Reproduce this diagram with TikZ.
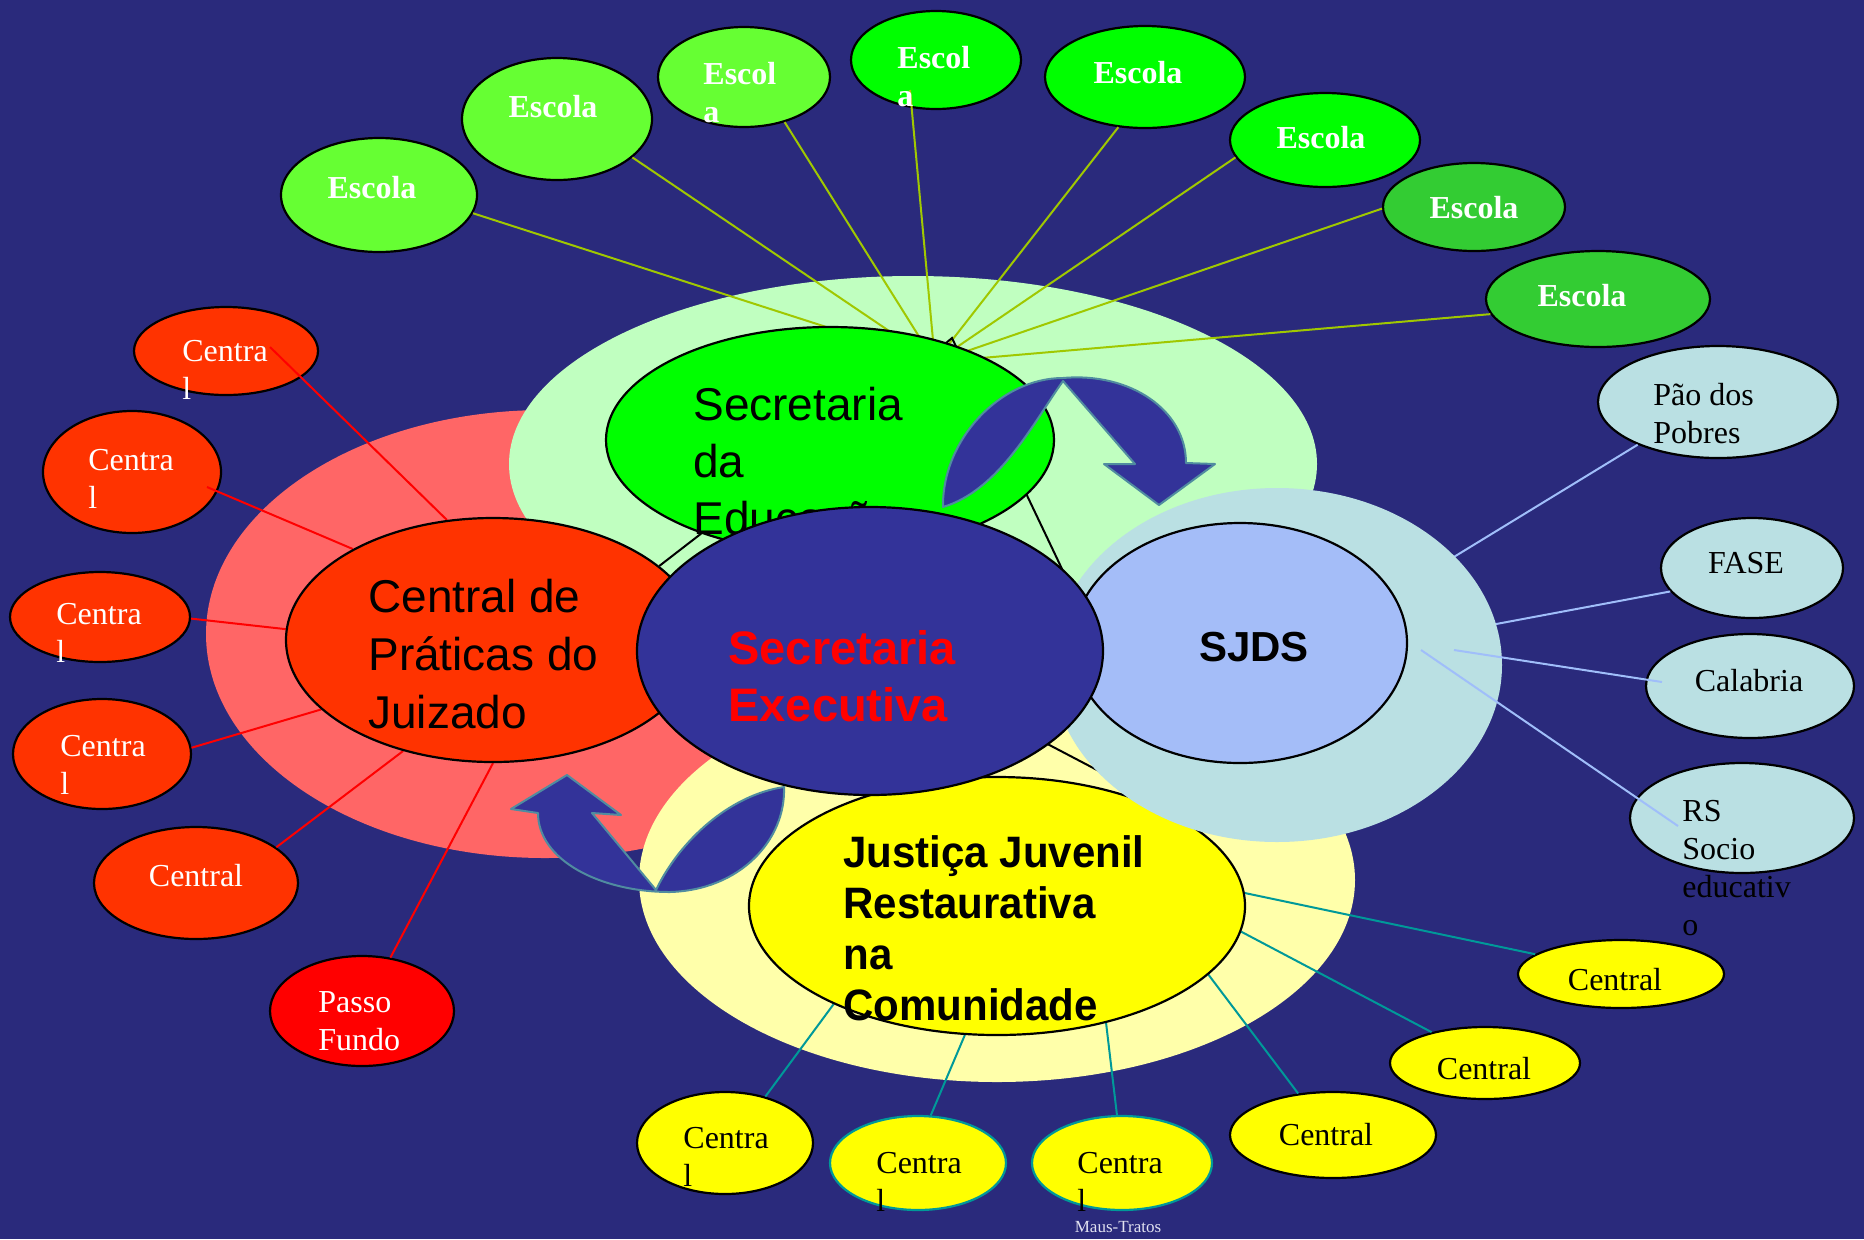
\documentclass[tikz,border=0pt]{standalone}
\usepackage{fontspec}
\setmainfont{Liberation Serif}
\setsansfont{Liberation Sans}
\newfontfamily\jusfont[FakeStretch=0.955]{Liberation Sans}
\usetikzlibrary{shapes.geometric,calc}
\pgfdeclarelayer{back}
\pgfdeclarelayer{outer}
\pgfdeclarelayer{lines}
\pgfsetlayers{back,outer,lines,main}
\definecolor{bgc}{RGB}{42,42,124}
\definecolor{cExe}{RGB}{51,51,153}
\definecolor{cEdu}{RGB}{0,255,0}
\definecolor{cHaloG}{RGB}{192,255,192}
\definecolor{cSalmon}{RGB}{255,102,102}
\definecolor{cCdp}{RGB}{255,51,0}
\definecolor{cHaloY}{RGB}{255,255,170}
\definecolor{cJus}{RGB}{255,255,0}
\definecolor{cHaloJ}{RGB}{186,224,227}
\definecolor{cSjds}{RGB}{164,189,248}
\definecolor{cEa}{RGB}{102,255,51}
\definecolor{cEb}{RGB}{0,255,0}
\definecolor{cEc}{RGB}{51,204,51}
\definecolor{cRed}{RGB}{255,0,0}
\definecolor{cTeal}{RGB}{0,153,153}
\definecolor{cOlive}{RGB}{160,200,0}
\definecolor{cLb}{RGB}{160,190,250}
\definecolor{cArrB}{RGB}{80,140,160}
\definecolor{cMaus}{RGB}{225,225,240}
\begin{document}
\begin{tikzpicture}[x=0.5pt,y=-0.5pt,
  ell/.style={ellipse, draw=black, line width=1.1pt, inner sep=0pt},
  halo/.style={ellipse, inner sep=0pt},
  txt/.style={inner sep=0pt, align=left, anchor=north west},
  ctxt/.style={inner sep=0pt, align=center, anchor=center},
  tms/.style={font=\fontsize{16}{19}\selectfont},
  esc/.style={text=white, font=\bfseries\fontsize{16}{19}\selectfont},
  big/.style={font=\sffamily\fontsize{23}{28.5}\selectfont},
  olive/.style={draw=cOlive, line width=1pt},
  redl/.style={draw=cRed, line width=1pt},
  teal/.style={draw=cTeal, line width=1pt},
  lbl/.style={draw=cLb, line width=1pt},
  blk/.style={draw=black, line width=1pt},
  barrow/.style={fill=cExe, draw=cArrB, line width=1pt, line join=round}]
\useasboundingbox (0,0) rectangle (1864,1239);
\coordinate (hub) at (935,362);
\coordinate (peak) at (952,338);
\coordinate (b3end) at (1120,782);
% ---------- background and halos
\begin{pgfonlayer}{back}
\fill[bgc] (0,0) rectangle (1864,1239);
\node[halo, fill=cSalmon, minimum width=339pt, minimum height=224pt] (hR) at (545,634) {};
\node[halo, fill=cHaloG, minimum width=404pt, minimum height=188pt] (hG) at (913,464) {};
\node[halo, fill=cHaloY, minimum width=358pt, minimum height=202pt] (hY) at (997,880) {};
\end{pgfonlayer}
% ---------- outer nodes
\begin{pgfonlayer}{outer}
\node[ell, fill=cEa, minimum width=98pt, minimum height=57pt] (E1) at (379,195) {};
\node[ell, fill=cEa, minimum width=95pt, minimum height=61pt] (E2) at (557,119) {};
\node[ell, fill=cEa, minimum width=86pt, minimum height=50pt] (E3) at (744,77) {};
\node[ell, fill=cEb, minimum width=85pt, minimum height=49pt] (E4) at (936,60) {};
\node[ell, fill=cEb, minimum width=100pt, minimum height=51pt] (E5) at (1145,77) {};
\node[ell, fill=cEb, minimum width=95pt, minimum height=47pt] (E6) at (1325,140) {};
\node[ell, fill=cEc, minimum width=91pt, minimum height=44pt] (E7) at (1474,207) {};
\node[ell, fill=cEc, minimum width=112pt, minimum height=48pt] (E8) at (1598,299) {};
\node[ell, fill=cCdp, minimum width=92pt, minimum height=44pt] (R1) at (226,351) {};
\node[ell, fill=cCdp, minimum width=89pt, minimum height=61pt] (R2) at (132,472) {};
\node[ell, fill=cCdp, minimum width=90pt, minimum height=45pt] (R3) at (100,617) {};
\node[ell, fill=cCdp, minimum width=89pt, minimum height=55pt] (R4) at (102,754) {};
\node[ell, fill=cCdp, minimum width=102pt, minimum height=56pt] (R5) at (196,883) {};
\node[ell, fill=cRed, minimum width=92pt, minimum height=55pt] (R6) at (362,1011) {};
\node[ell, fill=cJus, minimum width=88pt, minimum height=51pt] (Y1) at (725,1143) {};
\node[ell, fill=cJus, draw=cTeal, minimum width=88pt, minimum height=47pt] (Y2) at (918,1163) {};
\node[ell, fill=cJus, draw=cTeal, minimum width=90pt, minimum height=47pt] (Y3) at (1122,1163) {};
\node[ell, fill=cJus, minimum width=103pt, minimum height=43pt] (Y4) at (1333,1135) {};
\node[ell, fill=cJus, minimum width=95pt, minimum height=36pt] (Y5) at (1485,1063) {};
\node[ell, fill=cJus, minimum width=103pt, minimum height=34pt] (Y6) at (1621,974) {};
\node[ell, fill=cHaloJ, minimum width=120pt, minimum height=56pt] (P1) at (1718,402) {};
\node[ell, fill=cHaloJ, minimum width=91pt, minimum height=50pt] (P2) at (1752,568) {};
\node[ell, fill=cHaloJ, minimum width=104pt, minimum height=52pt] (P3) at (1750,686) {};
\node[ell, fill=cHaloJ, minimum width=112pt, minimum height=55pt] (P4) at (1742,818) {};
\end{pgfonlayer}
% ---------- main nodes (lower group)
\node[ell, fill=cEdu, minimum width=224pt, minimum height=113pt] (EDU) at (830,440) {};
\node[ell, fill=cCdp, minimum width=207pt, minimum height=122pt] (CdP) at (493,640) {};
\node[ell, fill=cJus, minimum width=248pt, minimum height=129pt] (JUS) at (997,906) {};
\node[txt, big] (tEDU) at (693,387) {Secretaria\\da\\Educação};
\node[txt, font=\sffamily\fontsize{23}{29}\selectfont] (tCdP) at (368,579) {Central de\\Práticas do\\Juizado};
\node[txt, font=\jusfont\bfseries\fontsize{22}{25.5}\selectfont] (tJUS) at (843,835) {Justiça Juvenil\\Restaurativa\\na\\Comunidade};
\node[halo, fill=cHaloJ, minimum width=225pt, minimum height=177pt] (hJ) at (1277,665) {};
% ---------- connectors under the main nodes
\begin{pgfonlayer}{lines}
\draw[olive] (E1.-11) -- (hub);
\draw[olive] (E2.-27) -- (hub);
\draw[olive] (E3.-48) -- (hub);
\draw[olive] ($(E4.center)+(-26,30)$) -- (hub);
\draw[olive] (E5.-118) -- (hub);
\draw[olive] (E6.191) -- (hub);
\draw[olive] (E7.181) -- (hub);
\draw[olive] (E8.188) -- (hub);
\draw[redl] ($(R1.center)+(44,-4)$) -- (CdP.111);
\draw[redl] ($(R2.center)+(75,15)$) -- (CdP.147);
\draw[redl] (R3.-1) -- (CdP.177);
\draw[redl] (R4.4) -- (CdP.202);
\draw[redl] (R5.24) -- (CdP.231);
\draw[redl] (R6.62) -- (CdP.270);
\draw[teal] (Y1.49) -- (JUS.211.5);
\draw[teal] (Y2.75) -- (JUS.256);
\draw[teal] (Y3.96) -- (JUS.-47);
\draw[teal] (Y4.130) -- (JUS.-18);
\draw[teal] (Y5.150) -- (JUS.-6);
\draw[teal] (Y6.167) -- (JUS.3);
\draw[lbl] (P1.208) -- (hJ.center);
\draw[lbl] (P2.196) -- (hJ.center);
\draw[blk] (EDU.center) -- (peak) -- (1083,613);
\draw[blk] (CdP.24) -- (EDU.216);
\draw[blk] (870,651) -- (b3end);
\end{pgfonlayer}
% ---------- upper group
\draw[lbl] ($(hJ.center)+(177,-15)$) -- ($(P3.center)+(-88,-4)$);
\draw[lbl] ($(hJ.center)+(144,-15)$) -- ($(P4.center)+(-64,8)$);
\node[ell, fill=cSjds, minimum width=167pt, minimum height=120pt] (SJDS) at (1240,643) {};
\node[ctxt, font=\sffamily\bfseries\fontsize{21}{25}\selectfont] (tSJDS) at (1254,647) {SJDS};
\node[ell, fill=cExe, minimum width=233pt, minimum height=144pt] (EXE) at (870,651) {};
\node[txt, text=cRed, font=\sffamily\bfseries\fontsize{23.5}{28.5}\selectfont] (tEXE) at (728,630) {Secretaria\\Executiva};
% ---------- curved block arrows
\filldraw[barrow] (943,507) .. controls (942,440) and (1000,378) .. (1063,378)
  .. controls (1130,372) and (1186,410) .. (1186,463) -- (1215,464) -- (1159,505)
  -- (1104,464) -- (1135,464) -- (1063,381) .. controls (1035,420) and (1000,490) .. cycle;
\filldraw[barrow] (567,775) -- (621,815) -- (592,813) -- (656,890)
  .. controls (680,840) and (730,795) .. (784,787)
  .. controls (786,840) and (740,890) .. (670,892)
  .. controls (600,892) and (538,860) .. (538,813) -- (511,809) -- cycle;
% ---------- outer texts
\node[ctxt, esc] (tE1) at (372,188) {Escola};
\node[ctxt, esc] (tE2) at (553,107) {Escola};
\node[txt, esc] (tE3) at (703,62) {Escol\\a};
\node[txt, esc] (tE4) at (897,46) {Escol\\a};
\node[ctxt, esc] (tE5) at (1138,73) {Escola};
\node[ctxt, esc] (tE6) at (1321,138) {Escola};
\node[ctxt, esc] (tE7) at (1474,208) {Escola};
\node[ctxt, esc] (tE8) at (1582,296) {Escola};
\node[txt, tms, text=white] (tR1) at (182,340) {Centra\\l};
\node[txt, tms, text=white] (tR2) at (88,449) {Centra\\l};
\node[txt, tms, text=white] (tR3) at (56,603) {Centra\\l};
\node[txt, tms, text=white] (tR4) at (60,735) {Centra\\l};
\node[ctxt, tms, text=white] (tR5) at (196,876) {Central};
\node[txt, tms, text=white] (tR6) at (318,991) {Passo\\Fundo};
\node[txt, tms] (tY1) at (683,1127) {Centra\\l};
\node[txt, tms] (tY2) at (876,1152) {Centra\\l};
\node[txt, tms] (tY3) at (1077,1152) {Centra\\l};
\node[ctxt, tms] (tY4) at (1326,1135) {Central};
\node[ctxt, tms] (tY5) at (1484,1069) {Central};
\node[ctxt, tms] (tY6) at (1615,980) {Central};
\node[txt, tms] (tP1) at (1653,383) {Pão dos\\Pobres};
\node[ctxt, tms] (tP2) at (1746,563) {FASE};
\node[ctxt, tms] (tP3) at (1749,681) {Calabria};
\node[txt, tms] (tP4) at (1682,800) {RS\\Socio\\educativ\\o};
\node[ctxt, text=cMaus, font=\fontsize{8.5}{10}\selectfont] (tMaus) at (1118,1227) {Maus-Tratos};
\end{tikzpicture}
\end{document}
